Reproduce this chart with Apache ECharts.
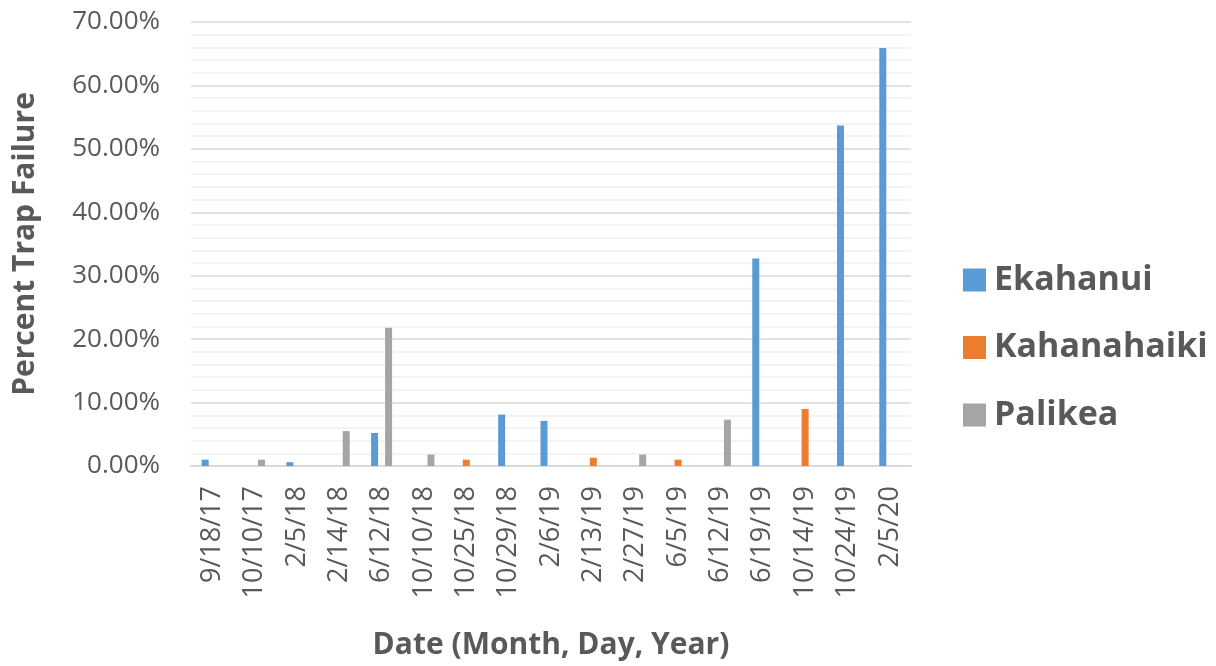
<!DOCTYPE html>
<html><head><meta charset="utf-8">
<script src="https://cdn.jsdelivr.net/npm/echarts@6/dist/echarts.min.js"></script>
<style>html,body{margin:0;padding:0;background:#fff}#c{width:1216px;height:666px}</style>
</head><body><div id="c"></div>
<script>
const categories = ['9/18/17','10/10/17','2/5/18','2/14/18','6/12/18','10/10/18','10/25/18','10/29/18','2/6/19','2/13/19','2/27/19','6/5/19','6/12/19','6/19/19','10/14/19','10/24/19','2/5/20'];
const ekahanui    = [0.010, null, 0.006, null, 0.052, null, null, 0.081, 0.071, null, null, null, null, 0.327, null, 0.537, 0.659];
const kahanahaiki = [null, null, null, null, null, null, 0.010, null, null, 0.013, null, 0.010, null, null, 0.090, null, null];
const palikea     = [null, 0.010, null, 0.055, 0.218, 0.018, null, null, null, null, 0.018, null, 0.073, null, null, null, null];
const yTicks = [0, 0.1, 0.2, 0.3, 0.4, 0.5, 0.6, 0.7];

const FONT = '"Open Sans", sans-serif';
const chart = echarts.init(document.getElementById('c'), null, {renderer:'canvas'});
const mk = (name, data, color) => ({
  name, type:'bar', data, barWidth:7, barGap:'0%',
  itemStyle:{color}
});
chart.setOption({
  animation:false,
  textStyle:{fontFamily:FONT},
  grid:{left:191, right:305, top:22, bottom:200, containLabel:false, outerBoundsMode:'none'},
  legend:{
    orient:'vertical', left:958, top:258, itemWidth:23, itemHeight:23, itemGap:33.5,
    icon:'rect',
    textStyle:{fontSize:34, lineHeight:34, fontWeight:'bold', color:'#595959', fontFamily:FONT, padding:[0,0,0,3]},
    data:['Ekahanui','Kahanahaiki','Palikea']
  },
  xAxis:{
    type:'category', data:categories,
    name:'Date (Month, Day, Year)', nameLocation:'middle', nameGap:164,
    nameTextStyle:{fontSize:30, fontWeight:'bold', color:'#595959', fontFamily:FONT},
    axisLine:{lineStyle:{color:'#D9D9D9', width:2}},
    axisTick:{show:false},
    axisLabel:{rotate:90, fontSize:27, color:'#595959', margin:20, interval:0, fontFamily:FONT}
  },
  yAxis:{
    type:'value', min:yTicks[0], max:yTicks[yTicks.length-1], interval:0.1,
    name:'Percent Trap Failure', nameLocation:'middle', nameGap:151,
    nameTextStyle:{fontSize:30, fontWeight:'bold', color:'#595959', fontFamily:FONT},
    axisLine:{show:false}, axisTick:{show:false},
    axisLabel:{fontSize:26, color:'#595959', margin:31, fontFamily:FONT,
      formatter:v=>(v*100).toFixed(2)+'%'},
    splitLine:{lineStyle:{color:'#D9D9D9', width:1.5}},
    minorTick:{show:false, splitNumber:5},
    minorSplitLine:{show:true, lineStyle:{color:'#F0F0F0', width:1.5}}
  },
  series:[
    mk('Ekahanui', ekahanui, '#5B9BD5'),
    mk('Kahanahaiki', kahanahaiki, '#ED7D31'),
    mk('Palikea', palikea, '#A5A5A5')
  ]
});
</script></body></html>
